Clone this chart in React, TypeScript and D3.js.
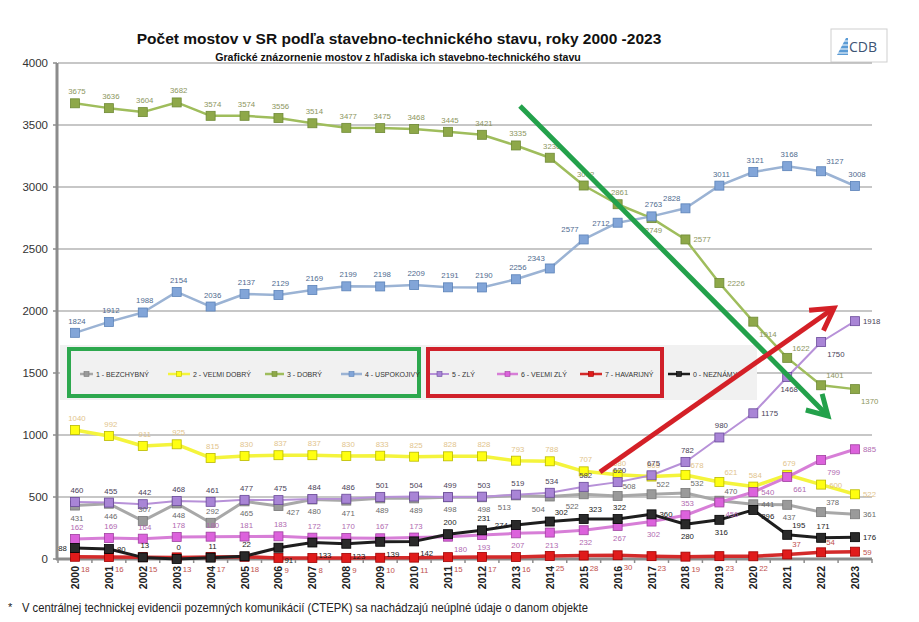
import React from 'react';
import * as d3 from 'd3';

// ---------- data ----------
const years = ['2000','2001','2002','2003','2004','2005','2006','2007','2008','2009','2010','2011','2012','2013','2014','2015','2016','2017','2018','2019','2020','2021','2022','2023'];
const yTicks = [0, 500, 1000, 1500, 2000, 2500, 3000, 3500, 4000];

const bezchybny = [431,446,307,448,292,465,427,480,471,489,489,498,498,513,504,522,508,522,532,470,441,437,378,361];
const velmiDobry = [1040,992,911,925,815,830,837,837,830,833,825,828,828,793,788,707,680,665,678,621,584,679,600,522];
const dobry = [3675,3636,3604,3682,3574,3574,3556,3514,3477,3475,3468,3445,3421,3335,3236,3012,2861,2749,2577,2226,1914,1622,1401,1370];
const uspokojivy = [1824,1912,1988,2154,2036,2137,2129,2169,2199,2198,2209,2191,2190,2256,2343,2577,2712,2763,2828,3011,3121,3168,3127,3008];
const zly = [460,455,442,468,461,477,475,484,486,501,504,499,503,519,534,582,620,675,782,980,1175,1468,1750,1918];
const velmiZly = [162,169,164,178,180,181,183,172,170,167,173,180,193,207,213,232,267,302,353,456,540,661,799,885];
const havarijny = [18,16,15,13,17,18,9,8,9,10,11,15,17,16,25,28,30,23,19,23,22,37,54,59];
const neznamy = [88,80,13,0,11,22,91,133,123,139,142,200,231,274,302,323,322,360,280,316,396,195,171,176];

const seriesNames = ['1 - BEZCHYBNÝ','2 - VEĽMI DOBRÝ','3 - DOBRÝ','4 - USPOKOJIVÝ','5 - ZLÝ','6 - VEĽMI ZLÝ','7 - HAVARIJNÝ','0 - NEZNÁMY'];

const title = 'Počet mostov v SR podľa stavebno-technického stavu, roky 2000 -2023';
const subtitle = 'Grafické znázornenie mostov z hľadiska ich stavebno-technického stavu';
const footnote = 'V centrálnej  technickej evidencii pozemných komunikácií (CTEPK) sa nachádzajú neúplné údaje o danom objekte';

// ---------- label placement (layout only) ----------
const rep = (c: string, n: number) => Array(n).fill(c);
const posGray = ['b', 'b', 'a', 'b', 'a', 'b', 'rb', ...rep('b', 6), 'bl', 'bl', 'bl', 'ar', 'ar', 'ar', 'ar', 'r', 'b', 'ar', 'r'];
const posYellow = [...rep('a', 18), 'ar', 'ar', 'a', 'a', 'r', 'r'];
const posGreen = [...rep('a', 17), 'b', 'r', 'r', 'br', 'ar', 'ar', 'br'];
const posBlue = [...rep('a', 14), 'al', 'al', 'l', 'a', 'al', 'a', 'a', 'a', 'ar', 'a'];
const posPurple = [...rep('a', 20), 'r', 'b', 'br', 'r'];
const posPink = [...rep('a', 11), 'br', 'b', 'b', 'b', 'b', 'b', 'b', 'a', 'br', 'r', 'br', 'br', 'r'];
const posRed = [...rep('br', 21), 'ar', 'ar', 'r'];
const posBlack = ['l', 'r', 'a', 'a', 'a', 'a', 'br', 'br', 'br', 'br', 'br', 'a', 'a', 'l', 'ar', 'ar', 'a', 'r', 'b', 'b', 'rb', 'ar', 'a', 'r'];

type S = { name: string; values: number[]; stroke: string; width: number; fill: string; mstroke: string; label: string; pos: string[] };
const series: S[] = [
  { name: seriesNames[0], values: bezchybny, stroke: '#a8a8a8', width: 3, fill: '#9a9a9a', mstroke: '#777', label: '#6a6a6a', pos: posGray },
  { name: seriesNames[1], values: velmiDobry, stroke: '#f4f43c', width: 3.5, fill: '#ffff10', mstroke: '#b9b900', label: '#e2c48c', pos: posYellow },
  { name: seriesNames[2], values: dobry, stroke: '#9fbd5c', width: 2.5, fill: '#8ea849', mstroke: '#6f8a35', label: '#8c9660', pos: posGreen },
  { name: seriesNames[3], values: uspokojivy, stroke: '#9bb3d4', width: 2.5, fill: '#82a5d8', mstroke: '#5b82b8', label: '#4f6b8f', pos: posBlue },
  { name: seriesNames[4], values: zly, stroke: '#b791d8', width: 2, fill: '#a985d6', mstroke: '#6a4a9a', label: '#4a4258', pos: posPurple },
  { name: seriesNames[5], values: velmiZly, stroke: '#d77ed7', width: 3, fill: '#dc62dc', mstroke: '#a040a0', label: '#b16ab1', pos: posPink },
  { name: seriesNames[6], values: havarijny, stroke: '#d42a2a', width: 3.5, fill: '#e01b1b', mstroke: '#a00000', label: '#c0504d', pos: posRed },
  { name: seriesNames[7], values: neznamy, stroke: '#1e1e1e', width: 3, fill: '#2a2a2a', mstroke: '#000', label: '#1a1a1a', pos: posBlack },
];

const W = 919, H = 622;
const P = { left: 58, right: 872, top: 63, bottom: 559 };
const FONT = '"Liberation Sans", Arial, sans-serif';

function labelOffset(code: string): { dx: number; dy: number; anchor: 'start' | 'middle' | 'end' } {
  switch (code) {
    case 'a': return { dx: 2, dy: -9, anchor: 'middle' };
    case 'b': return { dx: 2, dy: 15, anchor: 'middle' };
    case 'r': return { dx: 8, dy: 3, anchor: 'start' };
    case 'rb': return { dx: 8, dy: 9, anchor: 'start' };
    case 'l': return { dx: -8, dy: 3, anchor: 'end' };
    case 'ar': return { dx: 5, dy: -7, anchor: 'start' };
    case 'al': return { dx: -5, dy: -7, anchor: 'end' };
    case 'br': return { dx: 6, dy: 15, anchor: 'start' };
    default: return { dx: -5, dy: 15, anchor: 'end' };
  }
}

function arrow(x1: number, y1: number, x2: number, y2: number, len: number, ang: number) {
  const a = Math.atan2(y1 - y2, x1 - x2);
  const w1 = [x2 + len * Math.cos(a + ang), y2 + len * Math.sin(a + ang)];
  const w2 = [x2 + len * Math.cos(a - ang), y2 + len * Math.sin(a - ang)];
  return { line: `M${x1},${y1}L${x2},${y2}`, head: `M${w1[0]},${w1[1]}L${x2},${y2}L${w2[0]},${w2[1]}` };
}

export default function App() {
  const x = d3.scalePoint<string>().domain(years).range([P.left, P.right]).padding(0.5);
  const y = d3.scaleLinear().domain([0, 4000]).range([P.bottom, P.top]);
  const step = x.step();
  const lineGen = (vals: number[]) =>
    d3.line<number>().x((_, i) => x(years[i])!).y((d) => y(d))(vals) || '';

  const greenArrow = arrow(520, 106, 828, 416, 23, Math.PI / 6);
  const redArrow = arrow(600, 472, 834, 308, 25, Math.PI / 6);

  const legendItems = [
    { s: series[0], lx: 80, tx: 96 },
    { s: series[1], lx: 168, tx: 193 },
    { s: series[2], lx: 265, tx: 287 },
    { s: series[3], lx: 341, tx: 365 },
    { s: series[4], lx: 430, tx: 452 },
    { s: series[5], lx: 497, tx: 521 },
    { s: series[6], lx: 580, tx: 605 },
    { s: series[7], lx: 668, tx: 693 },
  ];

  return (
    <svg width={W} height={H} style={{ position: 'absolute', left: 0, top: 0, background: '#fff' }} fontFamily={FONT}>
      <rect x={0} y={0} width={W} height={H} fill="#fff" />
      {/* titles */}
      <text x={399} y={44} textAnchor="middle" fontSize={15.5} fontWeight="bold" fill="#111">{title}</text>
      <text x={398} y={61} textAnchor="middle" fontSize={10.6} fontWeight="bold" fill="#111">{subtitle}</text>

      {/* logo */}
      <rect x={831} y={29} width={56} height={33} fill="#fff" stroke="#cfcfcf" />
      <g>
        <polygon points="837,55 846,38 848,38 848,55" fill="#5b9bd5" />
        {[41, 45, 49, 53].map((yy) => (
          <line key={yy} x1={836} x2={849} y1={yy} y2={yy} stroke="#fff" strokeWidth={1} />
        ))}
      </g>
      <text x={849} y={52} fontSize={14} fill="#3d5474" fontFamily='"Open Sans", "Liberation Sans", sans-serif'>CDB</text>

      {/* gridlines */}
      {yTicks.filter((t) => t > 0).map((t) => (
        <line key={t} x1={P.left} x2={P.right} y1={y(t)} y2={y(t)} stroke="#b4b4b4" strokeWidth={1.5} />
      ))}

      {/* y axis */}
      <line x1={P.left - 1} x2={P.left - 1} y1={P.top} y2={P.bottom + 1} stroke="#8c8c8c" strokeWidth={3} />
      {yTicks.map((t) => (
        <g key={t}>
          <line x1={P.left - 5} x2={P.left - 1} y1={y(t)} y2={y(t)} stroke="#8c8c8c" strokeWidth={1.5} />
          <text x={48} y={y(t) + 4} textAnchor="end" fontSize={11.5} fill="#333">{t}</text>
        </g>
      ))}

      {/* legend */}
      <rect x={60} y={345} width={697} height={55} fill="#f1f1f1" />
      <rect x={69} y={349} width={350} height={47} fill="none" stroke="#2da84e" strokeWidth={4} />
      <rect x={428} y={349} width={234} height={47} fill="none" stroke="#d0202a" strokeWidth={4} />
      {legendItems.map(({ s, lx, tx }) => (
        <g key={s.name}>
          <line x1={lx} x2={tx - 3} y1={374} y2={374} stroke={s.stroke} strokeWidth={Math.min(s.width, 2.5)} />
          <rect x={(lx + tx - 3) / 2 - 2.5} y={371.5} width={5} height={5} fill={s.fill} stroke={s.mstroke} strokeWidth={0.6} />
          <text x={tx} y={376.5} fontSize={7} fill="#333">{s.name}</text>
        </g>
      ))}

      {/* x axis */}
      <line x1={P.left - 2} x2={P.right} y1={P.bottom} y2={P.bottom} stroke="#8c8c8c" strokeWidth={3} />
      {d3.range(years.length + 1).map((i) => (
        <line key={i} x1={P.left + i * step} x2={P.left + i * step} y1={P.bottom} y2={P.bottom + 4} stroke="#8c8c8c" strokeWidth={1.5} />
      ))}
      {years.map((yr) => (
        <text key={yr} transform={`translate(${x(yr)! + 4},566) rotate(-90)`} textAnchor="end" fontSize={10.5} fontWeight="bold" fill="#222">{yr}</text>
      ))}

      {/* series lines */}
      {series.map((s) => (
        <path key={s.name} d={lineGen(s.values)} fill="none" stroke={s.stroke} strokeWidth={s.width} strokeLinejoin="round" />
      ))}
      {/* markers */}
      {series.map((s) => (
        <g key={s.name + 'm'}>
          {s.values.map((v, i) => (
            <rect key={i} x={x(years[i])! - 4.5} y={y(v) - 4.5} width={9} height={9} fill={s.fill} stroke={s.mstroke} strokeWidth={0.8} />
          ))}
        </g>
      ))}
      {/* labels */}
      {series.map((s) => (
        <g key={s.name + 'l'}>
          {s.values.map((v, i) => {
            const o = labelOffset(s.pos[i]);
            return (
              <text key={i} x={x(years[i])! + o.dx} y={y(v) + o.dy} textAnchor={o.anchor} fontSize={7.8} fill={s.label}>{v}</text>
            );
          })}
        </g>
      ))}

      {/* annotation arrows */}
      <path d={greenArrow.line} stroke="#23a14b" strokeWidth={5} fill="none" />
      <path d={greenArrow.head} stroke="#23a14b" strokeWidth={5} fill="none" strokeLinejoin="miter" />
      <path d={redArrow.line} stroke="#d42027" strokeWidth={5} fill="none" />
      <path d={redArrow.head} stroke="#d42027" strokeWidth={5} fill="none" strokeLinejoin="miter" />

      {/* footnote */}
      <text x={8} y={611} fontSize={11} fill="#222">*</text>
      <text x={22} y={612} fontSize={11.9} fill="#222" textLength={566} lengthAdjust="spacingAndGlyphs">{footnote}</text>
    </svg>
  );
}
